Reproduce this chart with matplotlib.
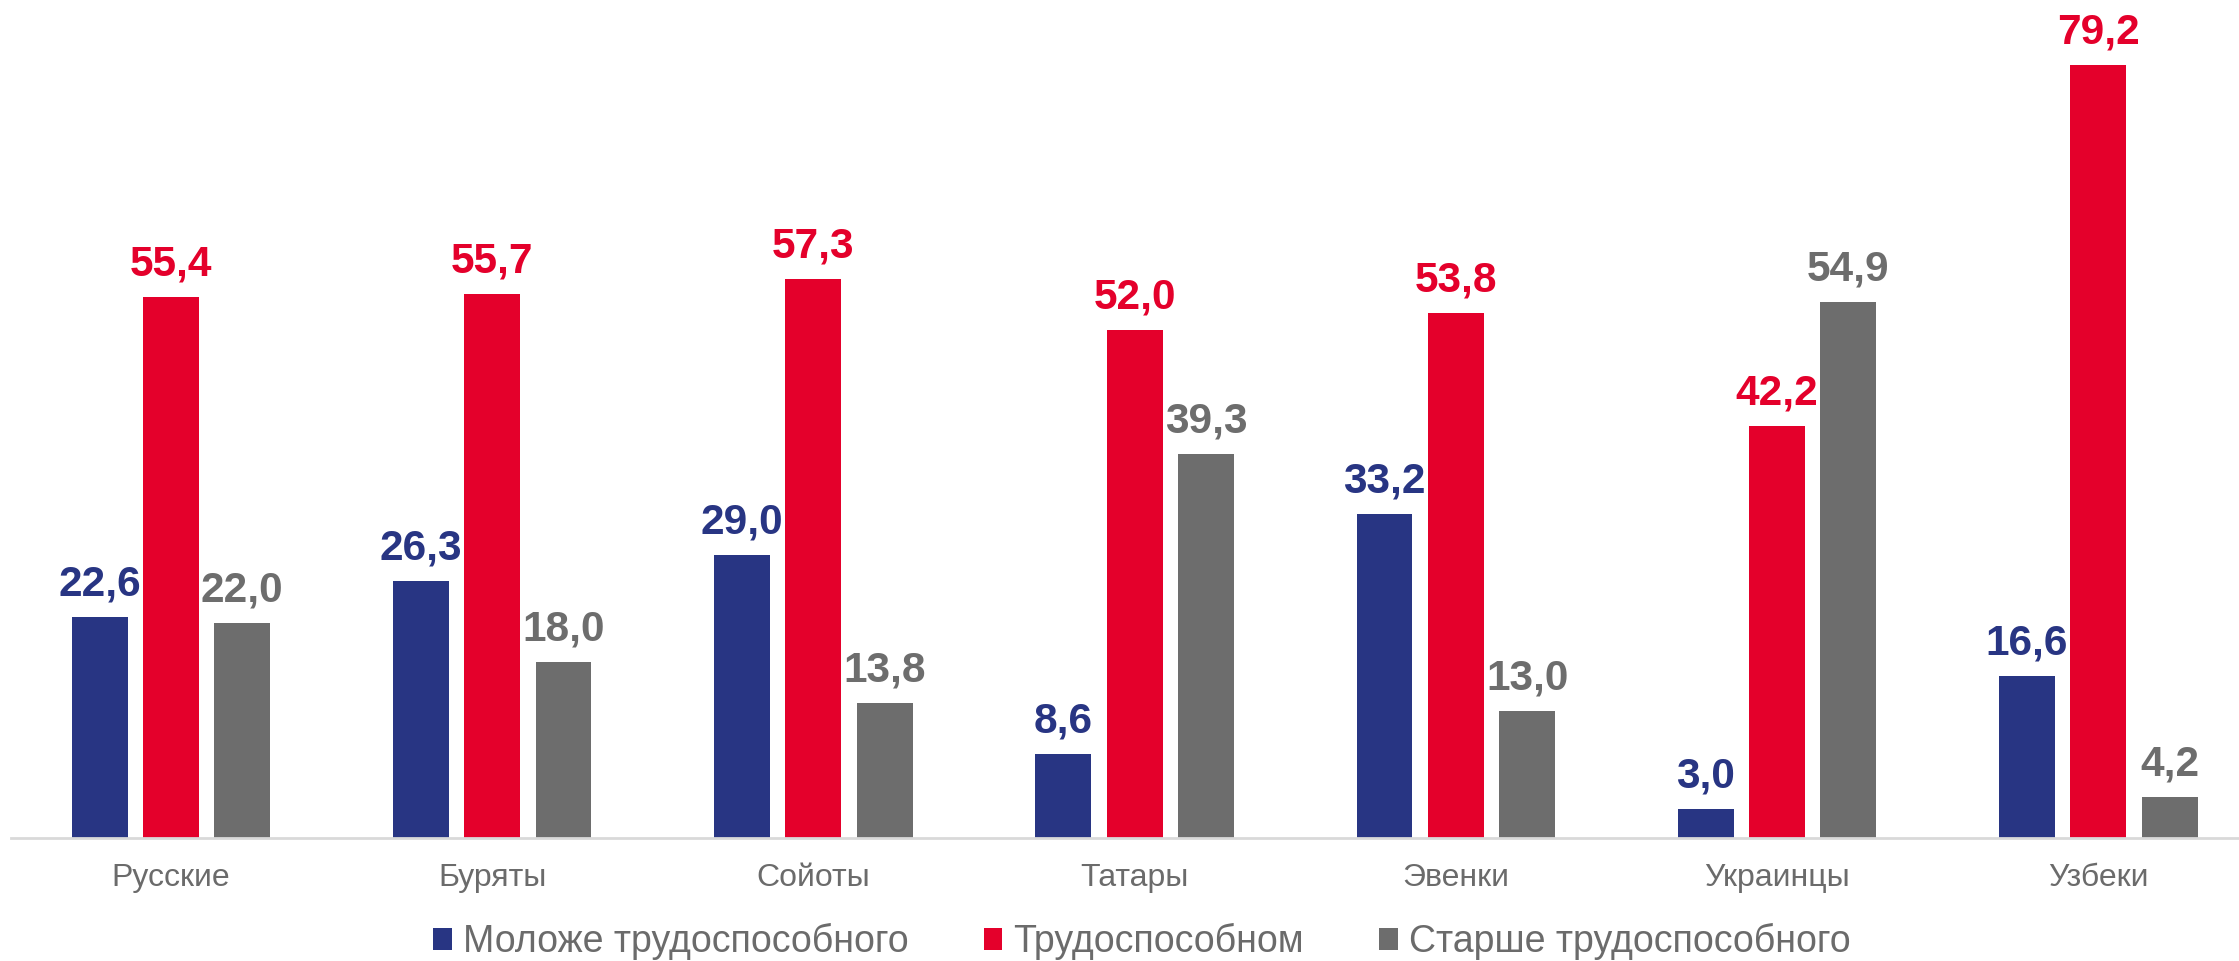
import numpy as np
import matplotlib
matplotlib.use("Agg")
import matplotlib.pyplot as plt
from matplotlib.patches import Patch

CATEGORIES = ["Русские", "Буряты", "Сойоты", "Татары", "Эвенки", "Украинцы", "Узбеки"]
SERIES = ["Моложе трудоспособного", "Трудоспособном", "Старше трудоспособного"]
YOUNG   = [22.6, 26.3, 29.0, 8.6, 33.2, 3.0, 16.6]
WORKING = [55.4, 55.7, 57.3, 52.0, 53.8, 42.2, 79.2]
OLDER   = [22.0, 18.0, 13.8, 39.3, 13.0, 54.9, 4.2]

COLORS = ["#283583", "#E4002B", "#6D6D6D"]
TEXT_GRAY = "#6B6B6B"

plt.rcParams.update({
    "font.family": ["Liberation Sans", "DejaVu Sans"],
})

W, H, DPI = 2239, 961, 100
fig = plt.figure(figsize=(W / DPI, H / DPI), dpi=DPI)
ax = fig.add_axes([11 / W, 123 / H, (W - 11) / W, 838 / H])

x = np.arange(len(CATEGORIES))
step = 0.222
width = 0.174

for i, (vals, col) in enumerate(zip([YOUNG, WORKING, OLDER], COLORS)):
    pos = x + (i - 1) * step
    bars = ax.bar(pos, vals, width=width, color=col, label=SERIES[i])
    for b, v in zip(bars, vals):
        ax.annotate(f"{v:.1f}".replace(".", ","),
                    xy=(b.get_x() + b.get_width() / 2, v),
                    xytext=(0, 15.5), textcoords="offset points",
                    ha="center", va="baseline",
                    fontsize=30.5, fontweight="bold", color=col)

ax.set_xlim(-0.498, 6.438)
ax.set_ylim(0, 85.86)

for s in ["top", "right", "left"]:
    ax.spines[s].set_visible(False)
ax.spines["bottom"].set_color("#D9D9D9")
ax.spines["bottom"].set_linewidth(2)
ax.set_yticks([])
ax.set_xticks(x)
ax.set_xticklabels(CATEGORIES, fontsize=23, color=TEXT_GRAY)
ax.tick_params(axis="x", length=0, pad=18)

handles = [Patch(facecolor=c, edgecolor="none") for c in COLORS]
fig.legend(handles, SERIES, loc="center", bbox_to_anchor=(0.51, 0.02),
           ncol=3, frameon=False, fontsize=27, labelcolor=TEXT_GRAY,
           handlelength=0.5, handleheight=0.5, handletextpad=0.3,
           columnspacing=2.0, borderaxespad=0)

fig.savefig("out.png", dpi=DPI)
